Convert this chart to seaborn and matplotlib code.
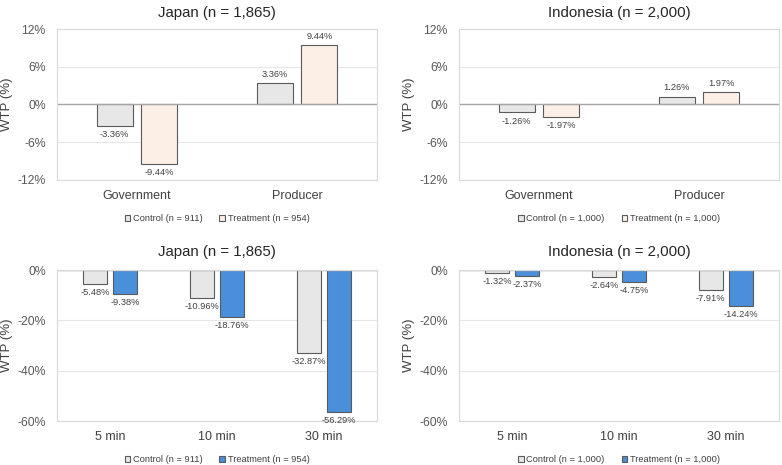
import matplotlib
matplotlib.use("Agg")
import matplotlib.pyplot as plt
import seaborn as sns
import pandas as pd
from matplotlib.ticker import FuncFormatter

sns.set_theme(style="white")
plt.rcParams['font.family'] = ['Liberation Sans', 'DejaVu Sans']

# ---- data ----
top_categories = ["Government", "Producer"]
japan_top_control = [-3.36, 3.36]
japan_top_treatment = [-9.44, 9.44]
indo_top_control = [-1.26, 1.26]
indo_top_treatment = [-1.97, 1.97]

bottom_categories = ["5 min", "10 min", "30 min"]
japan_bot_control = [-5.48, -10.96, -32.87]
japan_bot_treatment = [-9.38, -18.76, -56.29]
indo_bot_control = [-1.32, -2.64, -7.91]
indo_bot_treatment = [-2.37, -4.75, -14.24]

japan_title = "Japan (n = 1,865)"
indo_title = "Indonesia (n = 2,000)"
japan_groups = ["Control (n = 911)", "Treatment (n = 954)"]
indo_groups = ["Control (n = 1,000)", "Treatment (n = 1,000)"]

top_ticks = [-12, -6, 0, 6, 12]
bottom_ticks = [-60, -40, -20, 0]

# ---- styles ----
CONTROL = "#e7e7e7"
TREAT_TOP = "#fcefe6"
TREAT_BOT = "#4a8fd9"
EDGE = "#5a5a5a"
TXT = "#595959"

W, H = 782, 465
fig = plt.figure(figsize=(W / 100, H / 100), dpi=100)

def rect(l, t, r, b):
    return [l / W, 1 - b / H, (r - l) / W, (b - t) / H]

panels = [
    (rect(57, 29, 377, 180), japan_title, top_categories, japan_top_control, japan_top_treatment,
     japan_groups, TREAT_TOP, (-12, 12), top_ticks, 9),
    (rect(459, 29, 779, 180), indo_title, top_categories, indo_top_control, indo_top_treatment,
     indo_groups, TREAT_TOP, (-12, 12), top_ticks, 9),
    (rect(57, 270, 377, 421), japan_title, bottom_categories, japan_bot_control, japan_bot_treatment,
     japan_groups, TREAT_BOT, (-60, 0), bottom_ticks, 10),
    (rect(459, 270, 779, 421), indo_title, bottom_categories, indo_bot_control, indo_bot_treatment,
     indo_groups, TREAT_BOT, (-60, 0), bottom_ticks, 10),
]

for pos, title, cats, ctrl, trt, groups, tcol, ylim, yticks, tpad in panels:
    ax = fig.add_axes(pos)
    df = pd.DataFrame({
        "cat": cats * 2,
        "val": list(ctrl) + list(trt),
        "grp": [groups[0]] * len(cats) + [groups[1]] * len(cats),
    })
    sns.barplot(data=df, x="cat", y="val", hue="grp", hue_order=groups,
                palette=[CONTROL, tcol], width=0.56, gap=0.2,
                edgecolor=EDGE, linewidth=0.8, ax=ax, errorbar=None, saturation=1)
    ax.set_ylim(*ylim)
    ax.set_xlim(-0.5, len(cats) - 0.5)
    ax.set_yticks(yticks)
    ax.yaxis.set_major_formatter(FuncFormatter(lambda v, p: f"{int(v)}%"))
    ax.yaxis.grid(True, color="#e6e6e6", linewidth=0.8)
    ax.set_axisbelow(True)
    ax.axhline(0, color="#a6a6a6", linewidth=1.0, zorder=1.5)
    for s in ax.spines.values():
        s.set_color("#d9d9d9")
        s.set_linewidth(0.8)
    ax.tick_params(axis="y", labelsize=8.8, colors=TXT, length=0, pad=8)
    ax.tick_params(axis="x", labelsize=9, colors="#404040", length=0, pad=7)
    ax.set_xlabel("")
    ax.set_ylabel("WTP (%)", fontsize=9.5, color="#404040", labelpad=3)
    ax.set_title(title, fontsize=10.8, color="#262626", pad=tpad)

    for cont in ax.containers:
        for bar in cont:
            v = bar.get_height()
            x = bar.get_x() + bar.get_width() / 2
            if v < 0:
                ax.annotate(f"{v:.2f}%", (x, v), xytext=(0, -3), textcoords="offset points",
                            ha="center", va="top", fontsize=6.7, color="#404040")
            else:
                ax.annotate(f"{v:.2f}%", (x, v), xytext=(0, 3), textcoords="offset points",
                            ha="center", va="bottom", fontsize=6.7, color="#404040")

    handles, labels = ax.get_legend_handles_labels()
    ax.legend(handles, labels, loc="upper center", bbox_to_anchor=(0.5, -0.17), ncol=2,
              frameon=False, fontsize=6.7, handlelength=0.6, handleheight=0.6,
              handletextpad=0.3, columnspacing=1.8, labelcolor="#404040")

fig.savefig("out.png", dpi=100)
